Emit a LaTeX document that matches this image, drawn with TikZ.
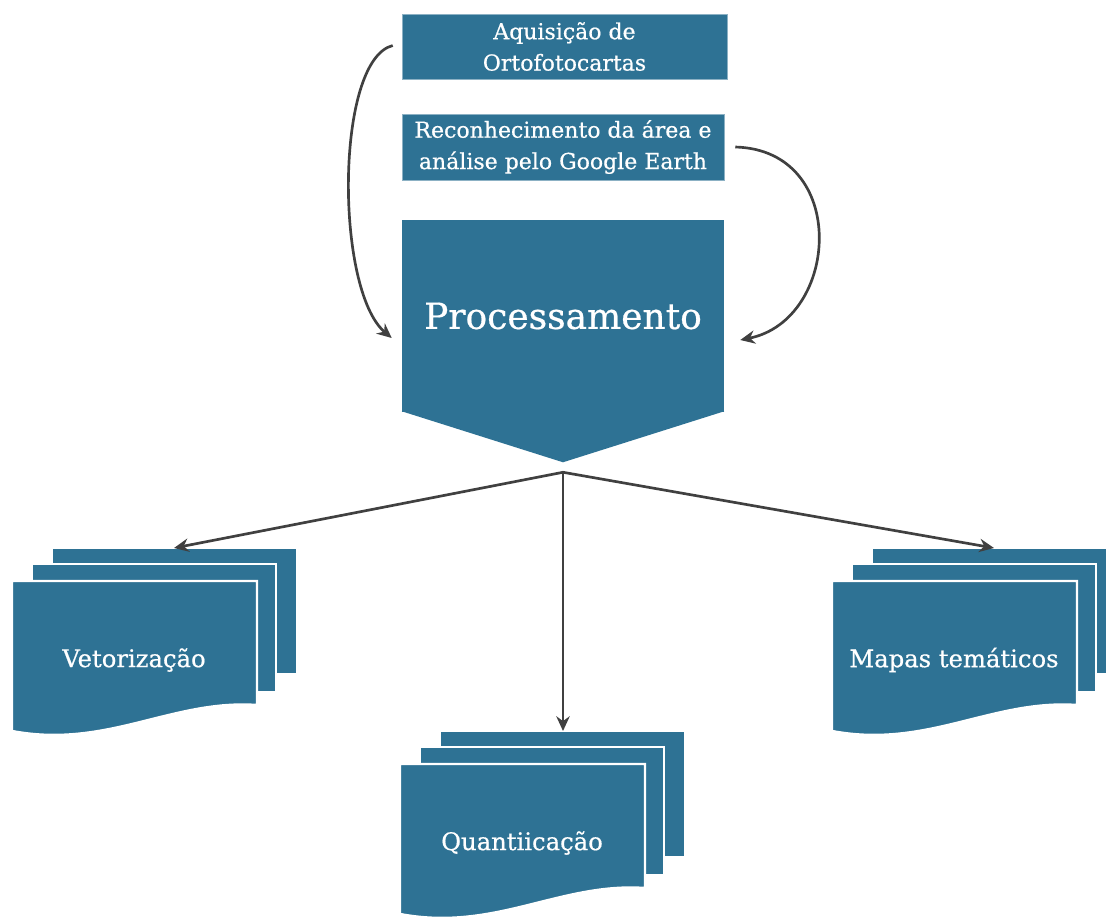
\documentclass[tikz,border=0pt]{standalone}
\usepackage{fontspec}
\setmainfont{DejaVu Serif}
\newfontfamily\heavyserif{DejaVu Serif}[FakeBold=0.6]
\usetikzlibrary{arrows.meta,calc}
\definecolor{boxblue}{HTML}{2E7294}
\definecolor{linkgray}{HTML}{404040}
\tikzset{
  stepbox/.style={fill=boxblue, draw=boxblue!55!white, line width=0.4pt, text=white,
    font=\heavyserif\fontsize{16.5}{23.5}\selectfont, align=center, inner sep=0pt},
  sheet/.style={fill=boxblue, draw=white, line width=1.8pt},
  link/.style={draw=linkgray, line width=2pt, -{Stealth[length=11pt,width=10pt]}},
  doclabel/.style={text=white, font=\heavyserif\fontsize{18.2}{22}\selectfont},
}
% three stacked sheets; #1,#2 = top-left corner of the front sheet, #3 = name, #4 = label
\newcommand\docstack[4]{%
  \begin{scope}[shift={(#1,#2)}]
    \path[sheet] (40,-33) rectangle (285,93);
    \path[sheet] (20,-17) rectangle (264,111);
    \path[sheet] (0,0) -- (245,0) -- (245,124)
      .. controls (160,118) and (95,168) .. (0,150) -- cycle;
    \coordinate (#3-top) at (162,-33);
    \node[doclabel] (#3) at (122,79) {#4};
  \end{scope}}

\begin{document}
\begin{tikzpicture}[x=0.75pt,y=-0.75pt]
  \clip (0,0) rectangle (1106,918);
  \fill[white] (0,0) rectangle (1106,918);

  % input steps
  \node[stepbox, minimum width=243.75pt, minimum height=48.75pt] (box1) at (564.5,46.5)
    {Aquisição de\\Ortofotocartas};
  \node[stepbox, minimum width=241.5pt, minimum height=49.5pt] (box2) at (563,147)
    {Reconhecimento da área e\\análise pelo Google Earth};

  % processing block (rectangle with a downward chevron)
  \node[fill=boxblue, text=white, minimum width=241.5pt, minimum height=144pt, inner sep=0pt,
        font=\heavyserif\fontsize{27}{30}\selectfont] (proc) at (563,316) {Processamento};
  \fill[boxblue] ($(proc.south west)+(0,-1)$) -- ($(proc.south east)+(0,-1)$)
    -- ($(proc.south)+(0,50)$) -- cycle;
  \coordinate (fan) at ($(proc.south)+(0,60)$);

  % products
  \docstack{12}{581}{vet}{Vetorização}
  \docstack{400}{764}{quant}{Quantiicação}
  \docstack{832}{581}{mapas}{Mapas temáticos}

  % connectors
  \draw[link] ($(box1.west)+(-9,-1)$) .. controls (335,60) and (335,290) .. ($(proc.west)+(-10,22)$);
  \draw[link] ($(box2.east)+(11,0)$) .. controls (850,150) and (840,320) .. ($(proc.east)+(16,24)$);
  \draw[link] (fan) -- (vet-top);
  \draw[link] (fan) -- (fan |- quant-top);
  \draw[link] (fan) -- (mapas-top);
\end{tikzpicture}
\end{document}
